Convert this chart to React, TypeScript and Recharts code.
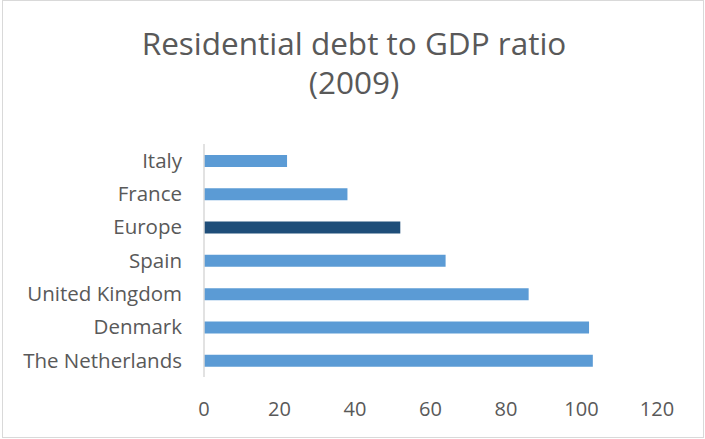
import { BarChart, Bar, XAxis, YAxis, Cell } from 'recharts'

const countries = ['Italy', 'France', 'Europe', 'Spain', 'United Kingdom', 'Denmark', 'The Netherlands']
const debtRatio = [22, 38, 52, 64, 86, 102, 103]
const xTicks = [0, 20, 40, 60, 80, 100, 120]
const titleLines = ['Residential debt to GDP ratio', '(2009)']

const BAR_COLOR = '#5B9BD5'
const HIGHLIGHT = '#1F4E79'
const TEXT = '#595959'
const FONT = '"Open Sans", "Noto Sans", sans-serif'

const data = countries.map((name, i) => ({ name, value: debtRatio[i] }))

export default function App() {
  return (
    <div style={{ position: 'absolute', left: 0, top: 0, width: 705, height: 439, background: '#fff', fontFamily: FONT }}>
      <div
        style={{
          position: 'absolute',
          left: 2,
          top: 0,
          width: 702,
          height: 438,
          border: '1px solid #D9D9D9',
          boxSizing: 'border-box',
        }}
      />
      <svg width={705} height={110} style={{ position: 'absolute', left: 0, top: 0 }}>
        {titleLines.map((t, i) => (
          <text
            key={t}
            x={354}
            y={55 + i * 39}
            textAnchor="middle"
            fill={TEXT}
            fontSize={31.5}
            fontWeight={400}
            fontFamily={FONT}
          >
            {t}
          </text>
        ))}
      </svg>
      <div style={{ position: 'absolute', left: 0, top: 0 }}>
        <BarChart
          width={705}
          height={439}
          data={data}
          layout="vertical"
          margin={{ top: 144, right: 48, bottom: 32, left: 0 }}
        >
          <XAxis
            type="number"
            domain={[0, 120]}
            ticks={xTicks}
            axisLine={false}
            tickLine={false}
            tickSize={0}
            tickMargin={25}
            height={30}
            tick={{ fill: TEXT, fontSize: 20, fontFamily: FONT }}
          />
          <YAxis
            type="category"
            dataKey="name"
            width={204}
            axisLine={{ stroke: '#D9D9D9', strokeWidth: 1.5 }}
            tickLine={false}
            tickSize={0}
            tickMargin={22}
            interval={0}
            tick={{ fill: TEXT, fontSize: 20.5, fontFamily: FONT }}
          />
          <Bar dataKey="value" barSize={12} isAnimationActive={false}>
            {data.map((d) => (
              <Cell key={d.name} fill={d.name === 'Europe' ? HIGHLIGHT : BAR_COLOR} />
            ))}
          </Bar>
        </BarChart>
      </div>
    </div>
  )
}
